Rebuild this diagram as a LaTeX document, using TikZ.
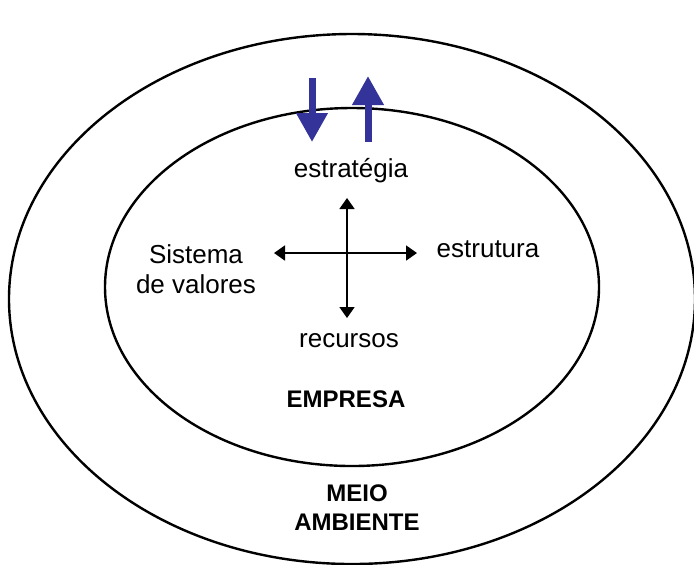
\documentclass[tikz,border=0pt]{standalone}
\usepackage{fontspec}
\setmainfont{Liberation Sans}
\usetikzlibrary{arrows.meta}
\definecolor{setaazul}{RGB}{51,51,153}
\begin{document}
\begin{tikzpicture}[
  x=0.5pt, y=-0.5pt,
  every node/.style = {inner sep=0pt, font=\fontsize{13}{15}\selectfont},
  rotulo/.style = {anchor=base},
  titulo/.style = {font=\fontsize{12}{14.5}\selectfont\bfseries, align=center},
  elipse/.style = {draw, line width=1.2pt},
  cruz/.style = {{Triangle[length=5.5pt,width=7.5pt]}-{Triangle[length=5.5pt,width=7.5pt]}, line width=0.9pt},
  seta/.style = {-{Triangle[length=14.5pt,width=15pt]}, line width=3.5pt, setaazul}
  ]
  \useasboundingbox (0,0) rectangle (694,564);
  \draw[elipse] (352,299) ellipse [x radius=343, y radius=265];
  \draw[elipse] (352,287) ellipse [x radius=247, y radius=179];

  \node[rotulo] (estrategia) at (351,177) {estratégia};
  \node[rotulo] (estrutura) at (488,257) {estrutura};
  \node[rotulo] (recursos) at (349,347) {recursos};
  \node[align=center] (valores) at (196,269) {Sistema\\de valores};
  \node[titulo, rotulo] (empresa) at (346,407) {EMPRESA};
  \node[titulo] (meio) at (357,508) {MEIO\\AMBIENTE};

  \coordinate (n) at (347,198);
  \coordinate (s) at (347,318);
  \coordinate (w) at (274,253);
  \coordinate (e) at (417,253);
  \draw[cruz] (n) -- (s);
  \draw[cruz] (w) -- (e);

  \coordinate (desce) at (312,78);
  \coordinate (entra) at (312,142);
  \coordinate (sai) at (368,142);
  \coordinate (sobe) at (368,76);
  \draw[seta] (desce) -- (entra);
  \draw[seta] (sai) -- (sobe);
\end{tikzpicture}
\end{document}
